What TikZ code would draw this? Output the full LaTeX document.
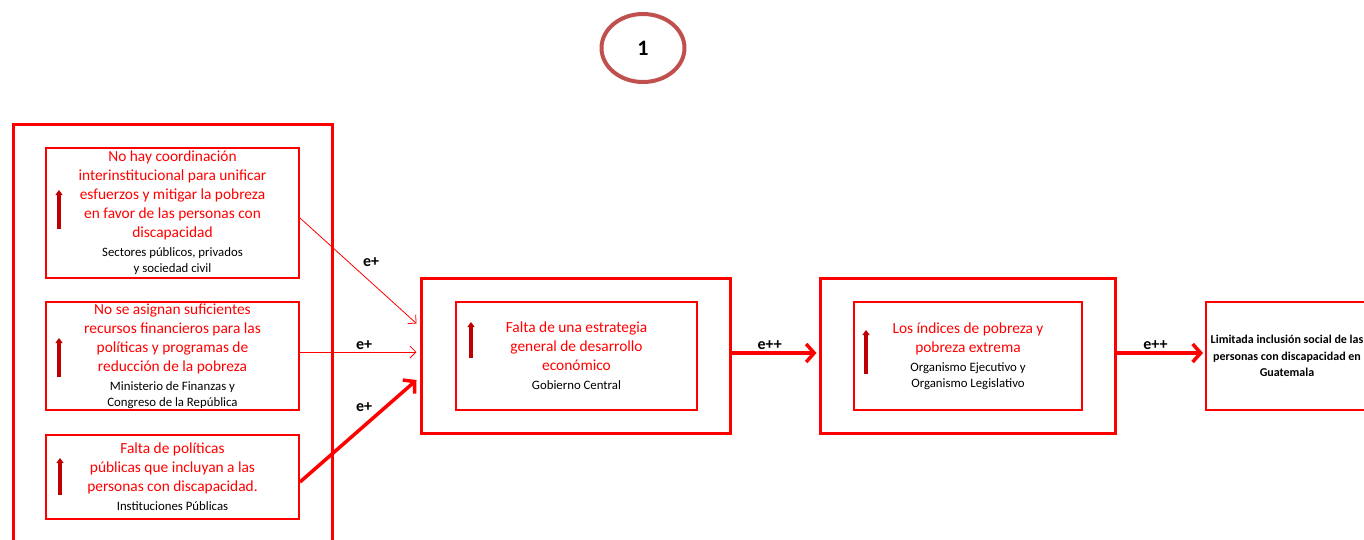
\documentclass[tikz,border=0pt]{standalone}
\usepackage{fontspec}
\setmainfont{Carlito}
\usepackage{tikz}
\usetikzlibrary{shapes.geometric,positioning,arrows.meta}
\definecolor{rojo}{RGB}{255,0,0}
\definecolor{rojooscuro}{RGB}{190,0,0}
\definecolor{anillo}{RGB}{192,80,77}
\newcommand{\txtnegro}{\fontsize{12.8}{16}\selectfont\color{black}}
\tikzset{
	x=1pt, y=1pt, % one unit is one pixel of the sketch
	caja/.style={draw=rojo, line width=2pt, inner sep=0pt, align=center, text=rojo, font=\fontsize{15.4}{19}\selectfont}, % boxes with a cause
	marco/.style={draw=rojo, line width=3pt, inner sep=0pt}, % the big frames
	flechita/.style={draw=rojooscuro, line width=3.5pt, -{Triangle[length=5pt,width=7pt]}}, % small arrow inside a box
	fina/.style={draw=rojo, line width=0.8pt, -{Straight Barb[length=6pt,width=12pt]}}, % thin connector
	gruesa/.style={draw=rojo, line width=3.5pt, -{Straight Barb[length=8pt,width=18pt]}}, % thick connector
	etiqueta/.style={font=\fontsize{16}{18}\selectfont\bfseries, text=black, inner sep=0pt}, % e+ and e++
}

\begin{document}
\begin{tikzpicture}
			\useasboundingbox (0,0) rectangle (1364,-539);
			\node[ellipse,draw=anillo,line width=4pt,minimum width=83pt,minimum height=68pt,font=\fontsize{22}{24}\selectfont\bfseries] at (643,-48) (uno) {1};
			
			\node[marco,minimum width=319pt,minimum height=436pt] at (172.5,-342) (grupo) {};
			\node[caja,minimum width=253pt,minimum height=130pt] at (172.5,-213) (c1) {No hay coordinación\\ interinstitucional para unificar\\ esfuerzos y mitigar la pobreza\\ en favor de las personas con\\ discapacidad\\ {\txtnegro Sectores públicos, privados}\\[-3pt] {\txtnegro y sociedad civil}};
			\node[caja,minimum width=253pt,minimum height=108pt] at (172.5,-356) (c2) {No se asignan suficientes\\ recursos financieros para las\\ políticas y programas de\\ reducción de la pobreza\\ {\txtnegro Ministerio de Finanzas y}\\[-3pt] {\txtnegro Congreso de la República}};
			\node[caja,minimum width=253pt,minimum height=84pt] at (172.5,-477) (c3) {Falta de políticas\\ públicas que incluyan a las\\ personas con discapacidad.\\ {\txtnegro Instituciones Públicas}};
			
			\node[marco,minimum width=309pt,minimum height=155pt] at (575.5,-355.5) (estrategia) {};
			\node[caja,minimum width=241pt,minimum height=108pt] at (576.5,-356) (e1) {Falta de una estrategia\\ general de desarrollo\\ económico\\ {\txtnegro Gobierno Central}};
			
			\node[marco,minimum width=295pt,minimum height=155pt] at (967.5,-355.5) (pobreza) {};
			\node[caja,minimum width=228pt,minimum height=108pt] at (968,-356) (p1) {Los índices de pobreza y\\ pobreza extrema\\ {\txtnegro Organismo Ejecutivo y}\\[-3pt] {\txtnegro Organismo Legislativo}};
			
			\node[caja,text=black,minimum width=162pt,minimum height=108pt,font=\fontsize{12}{16.5}\selectfont\bfseries] at (1287,-356) (efecto) {Limitada inclusión social de las\\ personas con discapacidad en\\ Guatemala};
			
			% small arrows inside the boxes
			\draw[flechita] ([xshift=14pt,yshift=-16pt]c1.west) -- ([xshift=14pt,yshift=23pt]c1.west);
			\draw[flechita] ([xshift=14pt,yshift=-21pt]c2.west) -- ([xshift=14pt,yshift=18pt]c2.west);
			\draw[flechita] ([xshift=15pt,yshift=-18pt]c3.west) -- ([xshift=15pt,yshift=19pt]c3.west);
			\draw[flechita] ([xshift=16pt,yshift=-2pt]e1.west) -- ([xshift=16pt,yshift=34pt]e1.west);
			\draw[flechita] ([xshift=13pt,yshift=-18pt]p1.west) -- ([xshift=13pt,yshift=26pt]p1.west);
			
			\draw ([yshift=-5pt]c1.east) edge[fina] node[etiqueta,pos=0.61,above=15pt]{e+} ([xshift=-3pt,yshift=32pt]estrategia.west)
						([yshift=4pt]c2.east) edge[fina] node[etiqueta,pos=0.55,above=2pt]{e+} ([xshift=-3pt,yshift=3.5pt]estrategia.west)
						([yshift=-5pt]c3.east) edge[gruesa] node[etiqueta,pos=0.55,above=13pt]{e+} ([xshift=-3pt,yshift=-24.5pt]estrategia.west)
						([yshift=2.5pt]estrategia.east) edge[gruesa] node[etiqueta,pos=0.45,above=2pt]{e++} ([xshift=-2pt,yshift=2.5pt]pobreza.west)
						([yshift=2.5pt]pobreza.east) edge[gruesa] node[etiqueta,pos=0.45,above=2pt]{e++} ([xshift=-2pt,yshift=3pt]efecto.west);
		\end{tikzpicture}
\end{document}
